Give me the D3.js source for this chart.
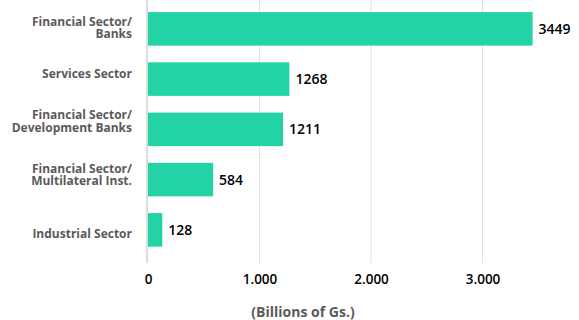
<!DOCTYPE html>
<html>
<head>
<meta charset="utf-8">
<script src="https://cdn.jsdelivr.net/npm/d3@7"></script>
<style>
  body { margin: 0; background: #fff; }
  text { font-family: "Open Sans", "Noto Sans", sans-serif; }
</style>
</head>
<body>
<div id="chart"></div>
<script>
// data ------------------------------------------------------------
const categories = [
  ["Financial Sector/", "Banks"],
  ["Services Sector"],
  ["Financial Sector/", "Development Banks"],
  ["Financial Sector/", "Multilateral Inst."],
  ["Industrial Sector"]
]
const values = [3449, 1268, 1211, 584, 128]
const tickValues = [0, 1000, 2000, 3000]
const axisTitle = "(Billions of Gs.)"

// layout ------------------------------------------------------------
const width = 579, height = 320
const left = 148, plotRight = 578
// category labels don't sit exactly on the bar centres in the original
const labelNudge = [-1, -5, -8, -5, 4]

const svg = d3.select("#chart").append("svg")
  .attr("width", width)
  .attr("height", height)

const x = d3.scaleLinear().domain([0, 3856]).range([left, plotRight])
const y = d3.scaleBand()
  .domain(d3.range(values.length))
  .range([3.7, 255])
  .paddingInner(0.333)
  .paddingOuter(0.167)

// gridlines
svg.append("g")
  .selectAll("line")
  .data(tickValues.slice(1))
  .join("line")
  .attr("x1", d => x(d)).attr("x2", d => x(d))
  .attr("y1", 0).attr("y2", 263)
  .attr("stroke", "#e2e2e2")
  .attr("stroke-width", 1)

// zero line
svg.append("line")
  .attr("x1", left - 1).attr("x2", left - 1)
  .attr("y1", 0).attr("y2", 263)
  .attr("stroke", "#dcdcdc")
  .attr("stroke-width", 2)

// bars
svg.append("g")
  .selectAll("rect")
  .data(values)
  .join("rect")
  .attr("x", x(0))
  .attr("y", (d, i) => y(i))
  .attr("width", d => x(d) - x(0))
  .attr("height", y.bandwidth())
  .attr("fill", "#22d3a5")

// value labels
svg.append("g")
  .selectAll("text")
  .data(values)
  .join("text")
  .attr("x", d => x(d) + 6)
  .attr("y", (d, i) => y(i) + y.bandwidth() / 2)
  .attr("dy", "0.36em")
  .attr("font-size", 14)
  .attr("font-weight", 600)
  .attr("fill", "#000")
  .text(d => d)

// category labels
const catG = svg.append("g")
  .selectAll("text")
  .data(categories)
  .join("text")
  .attr("text-anchor", "end")
  .attr("font-size", 12)
  .attr("font-weight", 700)
  .attr("fill", "#5a5a5a")
  .attr("y", (d, i) => y(i) + y.bandwidth() / 2 + labelNudge[i])

catG.selectAll("tspan")
  .data(d => d.map((t, j) => ({ t, j, n: d.length })))
  .join("tspan")
  .attr("x", 132)
  .attr("dy", d => d.j === 0 ? (0.36 - (d.n - 1) * 0.52) + "em" : "1.04em")
  .text(d => d.t)

// x axis
const xAxis = d3.axisBottom(x)
  .tickValues(tickValues)
  .tickSize(0)
  .tickPadding(0)
  .tickFormat(d => d3.format(",")(d).replace(/,/g, "."))

const axG = svg.append("g")
  .attr("transform", "translate(0,279)")
  .call(xAxis)
axG.select(".domain").remove()
axG.selectAll("text")
  .attr("dy", "0.36em")
  .attr("font-size", 13.5)
  .attr("font-weight", 600)
  .attr("font-family", "\"Open Sans\", \"Noto Sans\", sans-serif")
  .attr("fill", "#000")

// axis title
svg.append("text")
  .attr("x", 303)
  .attr("y", 312)
  .attr("dy", "0.36em")
  .attr("text-anchor", "middle")
  .attr("font-size", 14)
  .attr("font-weight", 700)
  .attr("fill", "#5a5a5a")
  .text(axisTitle)
</script>
</body>
</html>
